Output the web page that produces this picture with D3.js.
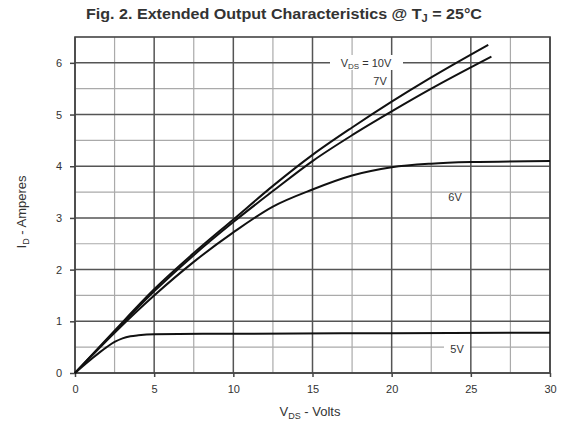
<!DOCTYPE html>
<html>
<head>
<meta charset="utf-8">
<script src="https://cdn.jsdelivr.net/npm/d3@7"></script>
<style>
  body { margin: 0; background: #fff; }
  text { font-family: "Liberation Sans", Arial, sans-serif; fill: #333; }
</style>
</head>
<body>
<svg id="chart" width="567" height="427"></svg>
<script>
const width = 567;
const height = 427;
const margin = {top: 37, right: 17, bottom: 54, left: 75};

// V_DS (volts) and I_D (amperes)
const vds10 = [0, 2.5, 5, 7.5, 10, 12.5, 15, 17.5, 20, 22.5, 26.1];
const id10  = [0, 0.82, 1.62, 2.32, 2.97, 3.62, 4.22, 4.75, 5.25, 5.72, 6.35];
const vds7  = [0, 2.5, 5, 7.5, 10, 12.5, 15, 17.5, 20, 22.5, 26.3];
const id7   = [0, 0.8, 1.58, 2.28, 2.92, 3.52, 4.1, 4.6, 5.06, 5.5, 6.12];
const vds6  = [0, 2.5, 5, 7.5, 10, 12.5, 15, 17.5, 20, 22.5, 25, 30];
const id6   = [0, 0.78, 1.5, 2.15, 2.72, 3.22, 3.55, 3.82, 3.98, 4.05, 4.08, 4.1];
const vds5  = [0, 1, 2, 2.5, 3, 3.5, 4, 5, 10, 20, 30];
const id5   = [0, 0.26, 0.5, 0.6, 0.67, 0.71, 0.73, 0.75, 0.76, 0.77, 0.78];

const xTicks = [0, 5, 10, 15, 20, 25, 30];
const yTicks = [0, 1, 2, 3, 4, 5, 6];
const xMinor = [2.5, 7.5, 12.5, 17.5, 22.5, 27.5];
const yMinor = [0.5, 1.5, 2.5, 3.5, 4.5, 5.5];

const svg = d3.select('#chart');

const x = d3.scaleLinear([0, 30], [margin.left, width - margin.right]);
const y = d3.scaleLinear([0, 6.5], [height - margin.bottom, margin.top]);

// grid
const grid = svg.append('g');
grid.selectAll('.vmin').data(xMinor).join('line')
  .attr('x1', d => x(d)).attr('x2', d => x(d))
  .attr('y1', y(0)).attr('y2', y(6.5))
  .attr('stroke', '#aaa').attr('stroke-width', 1.2);
grid.selectAll('.hmin').data(yMinor).join('line')
  .attr('y1', d => y(d)).attr('y2', d => y(d))
  .attr('x1', x(0)).attr('x2', x(30))
  .attr('stroke', '#aaa').attr('stroke-width', 1.2);
grid.selectAll('.vmaj').data(xTicks).join('line')
  .attr('x1', d => x(d)).attr('x2', d => x(d))
  .attr('y1', y(0)).attr('y2', y(6.5))
  .attr('stroke', '#555').attr('stroke-width', 1.5);
grid.selectAll('.hmaj').data(yTicks).join('line')
  .attr('y1', d => y(d)).attr('y2', d => y(d))
  .attr('x1', x(0)).attr('x2', x(30))
  .attr('stroke', '#555').attr('stroke-width', 1.5);

// frame
svg.append('rect')
  .attr('x', x(0)).attr('y', y(6.5))
  .attr('width', x(30) - x(0)).attr('height', y(0) - y(6.5))
  .attr('fill', 'none').attr('stroke', '#444').attr('stroke-width', 1.6);

// axes
const xAxis = svg.append('g')
  .attr('transform', `translate(0,${y(0)})`)
  .call(d3.axisBottom(x).tickValues(xTicks).tickFormat(d3.format('d')).tickSize(4).tickPadding(8));
const yAxis = svg.append('g')
  .attr('transform', `translate(${x(0)},0)`)
  .call(d3.axisLeft(y).tickValues(yTicks).tickFormat(d3.format('d')).tickSize(5).tickPadding(8));
[xAxis, yAxis].forEach(a => {
  a.select('.domain').remove();
  a.selectAll('line').attr('stroke', '#444').attr('stroke-width', 1.5);
  a.selectAll('text').attr('font-size', 11).attr('fill', '#444')
    .attr('font-family', '"Liberation Sans", Arial, sans-serif');
});

// curves
const line = d3.line().x(d => x(d[0])).y(d => y(d[1])).curve(d3.curveMonotoneX);
const series = [[vds10, id10], [vds7, id7], [vds6, id6], [vds5, id5]];
svg.append('g').selectAll('path').data(series).join('path')
  .attr('d', s => line(d3.zip(s[0], s[1])))
  .attr('fill', 'none').attr('stroke', '#111').attr('stroke-width', 2);

// curve labels
svg.append('rect').attr('x', 330).attr('y', 55).attr('width', 73).attr('height', 15).attr('fill', '#fff');
const l10 = svg.append('text').attr('x', 366).attr('y', 67)
  .attr('text-anchor', 'middle').attr('font-size', 11);
l10.append('tspan').text('V');
l10.append('tspan').text('DS').attr('font-size', 8).attr('dy', 2);
l10.append('tspan').text(' = 10V').attr('dy', -2);
svg.append('text').attr('x', 380).attr('y', 85).attr('text-anchor', 'middle').attr('font-size', 11).text('7V');
svg.append('text').attr('x', 455).attr('y', 201).attr('text-anchor', 'middle').attr('font-size', 11).text('6V');
svg.append('rect').attr('x', 444).attr('y', 342).attr('width', 26).attr('height', 14).attr('fill', '#fff');
svg.append('text').attr('x', 457).attr('y', 353).attr('text-anchor', 'middle').attr('font-size', 11).text('5V');

// title
const title = svg.append('text').attr('x', 284).attr('y', 19)
  .attr('text-anchor', 'middle').attr('font-size', 14.5).attr('font-weight', 'bold').attr('fill', '#222')
  .attr('textLength', 396).attr('lengthAdjust', 'spacingAndGlyphs');
title.append('tspan').text('Fig. 2. Extended Output Characteristics @ T');
title.append('tspan').text('J').attr('font-size', 10).attr('dy', 3);
title.append('tspan').text(' = 25°C').attr('dy', -3);

// axis titles
const xt = svg.append('text').attr('x', 310).attr('y', 416)
  .attr('text-anchor', 'middle').attr('font-size', 13);
xt.append('tspan').text('V');
xt.append('tspan').text('DS').attr('font-size', 9).attr('dy', 3);
xt.append('tspan').text(' - Volts').attr('dy', -3);

const yt = svg.append('text').attr('transform', 'translate(26,212) rotate(-90)')
  .attr('text-anchor', 'middle').attr('font-size', 13);
yt.append('tspan').text('I');
yt.append('tspan').text('D').attr('font-size', 9).attr('dy', 3);
yt.append('tspan').text(' - Amperes').attr('dy', -3);
</script>
</body>
</html>
